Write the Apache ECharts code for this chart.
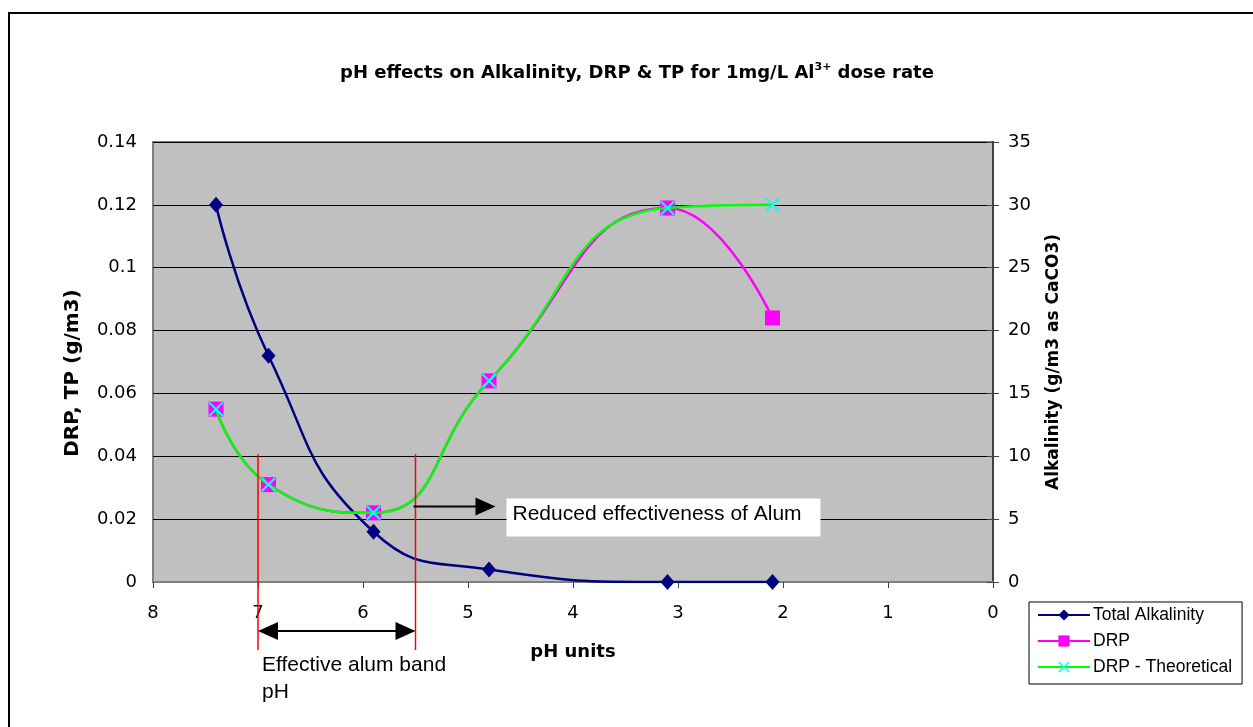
<!DOCTYPE html>
<html>
<head>
<meta charset="utf-8">
<title>pH effects on Alkalinity, DRP & TP</title>
<script src="https://cdn.jsdelivr.net/npm/echarts@6/dist/echarts.min.js"></script>
<style>
  html, body { margin: 0; padding: 0; background: #fff; }
  #main { width: 1253px; height: 727px; }
</style>
</head>
<body>
<div id="main"></div>
<script>
// data
var phValues = [7.4, 6.9, 5.9, 4.8, 3.1, 2.1];
var alkalinity = [30, 18, 4, 1, 0, 0];
var drp = [0.055, 0.031, 0.022, 0.064, 0.119, 0.084];
var drpTheoretical = [0.055, 0.031, 0.022, 0.064, 0.119, 0.12];
var bandEdges = [7, 5.5]; // effective alum band (pH)

function pairs(xs, ys) {
  return xs.map(function (x, i) { return [x, ys[i]]; });
}

var WIDE = '"DejaVu Sans", Verdana, sans-serif';
var ARIAL = '"Liberation Sans", Arial, sans-serif';
var crossPath = 'path://M0,2 L2,0 L10,8 L18,0 L20,2 L12,10 L20,18 L18,20 L10,12 L2,20 L0,18 L8,10 Z';

var chart = echarts.init(document.getElementById('main'), null, { renderer: 'canvas' });

var option = {
  backgroundColor: '#ffffff',
  animation: false,
  textStyle: { fontFamily: WIDE },
  title: {
    text: 'pH effects on Alkalinity, DRP & TP for 1mg/L Al{sup|3+} dose rate',
    left: 632,
    textAlign: 'center',
    top: 57,
    textStyle: {
      fontFamily: WIDE,
      fontSize: 18,
      fontWeight: 'bold',
      color: '#000',
      rich: {
        sup: { fontFamily: WIDE, fontSize: 11, fontWeight: 'bold', color: '#000', padding: [0, 0, 11, 0] }
      }
    }
  },
  grid: {
    left: 153,
    top: 142,
    right: 260,
    bottom: 145,
    show: true,
    backgroundColor: '#c0c0c0',
    borderColor: '#808080',
    borderWidth: 2
  },
  legend: {
    orient: 'vertical',
    left: 1029,
    top: 602,
    itemWidth: 52,
    itemHeight: 14,
    itemGap: 8,
    padding: [4, 10, 8, 8],
    borderColor: '#000',
    borderWidth: 1,
    backgroundColor: '#fff',
    textStyle: { fontFamily: ARIAL, fontSize: 17.5, color: '#000', padding: [0, 0, 0, -2] },
    data: ['Total Alkalinity', 'DRP', 'DRP - Theoretical']
  },
  xAxis: {
    type: 'value',
    inverse: true,
    min: 0,
    max: 8,
    interval: 1,
    name: 'pH units',
    nameLocation: 'middle',
    nameGap: 61,
    nameMoveOverlap: false,
    nameTextStyle: { fontFamily: WIDE, fontSize: 18, fontWeight: 'bold', color: '#000' },
    axisLine: { lineStyle: { color: '#808080', width: 2 } },
    axisTick: { show: true, inside: false, length: 6, lineStyle: { color: '#404040', width: 1 } },
    axisLabel: { fontFamily: WIDE, fontSize: 18, color: '#000', margin: 22 },
    splitLine: { show: false }
  },
  yAxis: [{
    type: 'value',
    min: 0,
    max: 0.14,
    interval: 0.02,
    name: 'DRP, TP (g/m3)',
    nameLocation: 'middle',
    nameGap: 70,
    nameMoveOverlap: false,
    nameTextStyle: { fontFamily: WIDE, fontSize: 20, fontWeight: 'bold', color: '#000', padding: [0, 22, 0, 0] },
    axisLine: { show: true, lineStyle: { color: '#404040', width: 2 } },
    axisTick: { show: true, length: 6, lineStyle: { color: '#404040' } },
    axisLabel: { fontFamily: WIDE, fontSize: 18, color: '#000', margin: 16 },
    splitLine: { show: true, lineStyle: { color: '#000', width: 1 } }
  }, {
    type: 'value',
    min: 0,
    max: 35,
    interval: 5,
    position: 'right',
    name: 'Alkalinity (g/m3 as CaCO3)',
    nameLocation: 'middle',
    nameGap: 52,
    nameRotate: 90,
    nameMoveOverlap: false,
    nameTextStyle: { fontFamily: WIDE, fontSize: 17, fontWeight: 'bold', color: '#000' },
    axisLine: { show: true, lineStyle: { color: '#404040', width: 2 } },
    axisTick: { show: true, length: 6, lineStyle: { color: '#404040' } },
    axisLabel: { fontFamily: WIDE, fontSize: 18, color: '#000', margin: 15 },
    splitLine: { show: false }
  }],
  series: [{
    name: 'Total Alkalinity',
    type: 'line',
    yAxisIndex: 1,
    smooth: 0.5,
    symbol: 'diamond',
    symbolSize: [14, 16],
    color: '#000080',
    lineStyle: { color: '#000080', width: 2.5 },
    itemStyle: { color: '#000080' },
    data: pairs(phValues, alkalinity),
    z: 3
  }, {
    name: 'DRP',
    type: 'line',
    yAxisIndex: 0,
    smooth: 0.5,
    symbol: 'rect',
    symbolSize: 15,
    color: '#ff00ff',
    lineStyle: { color: '#ff00ff', width: 2.5 },
    itemStyle: { color: '#ff00ff' },
    data: pairs(phValues, drp),
    z: 4
  }, {
    name: 'DRP - Theoretical',
    type: 'line',
    yAxisIndex: 0,
    smooth: 0.5,
    symbol: crossPath,
    symbolSize: 15,
    color: '#00ffff',
    lineStyle: { color: '#00ff00', width: 2.5 },
    itemStyle: { color: '#00ffff' },
    data: pairs(phValues, drpTheoretical),
    z: 5
  }]
};

chart.setOption(option);

// annotations placed from the axes
function px(ph, v) {
  return chart.convertToPixel({ xAxisIndex: 0, yAxisIndex: 0 }, [ph, v]);
}

var left = px(bandEdges[0], 0.04);
var right = px(bandEdges[1], 0.04);
var axisY = px(8, 0)[1];
var lineTop = left[1] - 2;
var lineBottom = axisY + 68;
var bandArrowY = axisY + 49;
var reducedY = px(5.5, 0.024)[1];

function arrowHead(x, y, dir) {
  // dir 1 = pointing right, -1 = pointing left
  return {
    type: 'polygon',
    shape: { points: [[x, y], [x - dir * 20, y - 9], [x - dir * 20, y + 9]] },
    style: { fill: '#000' },
    z: 20
  };
}

chart.setOption({
  graphic: [
    // outer chart-area border (left & top edges visible)
    { type: 'rect', shape: { x: 9, y: 13, width: 1300, height: 800 },
      style: { fill: null, stroke: '#000', lineWidth: 2 }, z: 30, silent: true },
    // effective band edges
    { type: 'line', shape: { x1: left[0], y1: lineTop, x2: left[0], y2: lineBottom },
      style: { stroke: '#ff0000', lineWidth: 1.5 }, z: 20 },
    { type: 'line', shape: { x1: right[0], y1: lineTop, x2: right[0], y2: lineBottom },
      style: { stroke: '#ff0000', lineWidth: 1.5 }, z: 20 },
    // double arrow across the band
    { type: 'line', shape: { x1: left[0] + 10, y1: bandArrowY, x2: right[0] - 10, y2: bandArrowY },
      style: { stroke: '#000', lineWidth: 2 }, z: 20 },
    arrowHead(left[0], bandArrowY, -1),
    arrowHead(right[0], bandArrowY, 1),
    { type: 'text', left: left[0] + 4, top: bandArrowY + 21,
      style: { text: 'Effective alum band\npH', fontFamily: ARIAL, fontSize: 21, lineHeight: 27, fill: '#000' }, z: 20 },
    // reduced effectiveness arrow + label
    { type: 'line', shape: { x1: right[0] - 2, y1: reducedY, x2: right[0] + 70, y2: reducedY },
      style: { stroke: '#000', lineWidth: 2 }, z: 20 },
    arrowHead(right[0] + 80, reducedY, 1),
    { type: 'rect', shape: { x: right[0] + 91, y: reducedY - 8, width: 314, height: 38 },
      style: { fill: '#fff' }, z: 19 },
    { type: 'text', left: right[0] + 97, top: reducedY - 3,
      style: { text: 'Reduced effectiveness of Alum', fontFamily: ARIAL, fontSize: 21, fill: '#000' }, z: 20 }
  ]
});
</script>
</body>
</html>
